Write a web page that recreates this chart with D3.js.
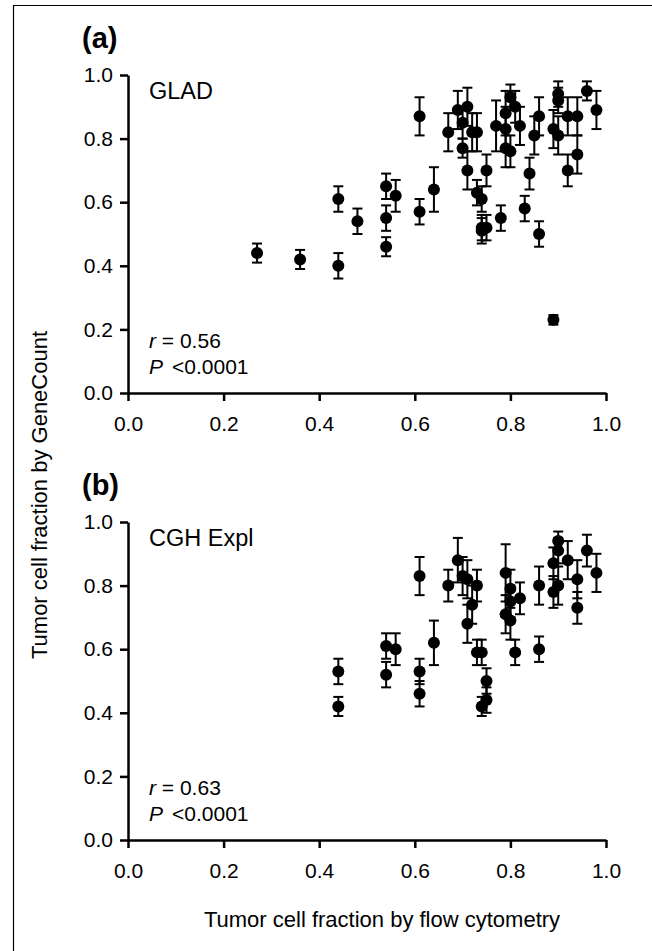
<!DOCTYPE html>
<html>
<head>
<meta charset="utf-8">
<script src="https://cdn.jsdelivr.net/npm/d3@7"></script>
<style>
  body { margin: 0; background: #fff; }
  svg { display: block; }
  text { font-family: "Liberation Sans", Arial, Helvetica, sans-serif; fill: #000; }
</style>
</head>
<body>
<div id="chart"></div>
<script>
// tick values shared by both axes
const tickValues = [0, 0.2, 0.4, 0.6, 0.8, 1.0];

// panel (a) GLAD
const gladX = [0.27, 0.36, 0.44, 0.44, 0.48, 0.54, 0.56, 0.54, 0.54, 0.61, 0.61, 0.64, 0.67, 0.69, 0.71, 0.70, 0.70, 0.72, 0.73, 0.71, 0.75, 0.73, 0.74, 0.74, 0.75, 0.74, 0.77, 0.78, 0.79, 0.79, 0.80, 0.81, 0.79, 0.80, 0.82, 0.83, 0.84, 0.85, 0.86, 0.86, 0.89, 0.90, 0.90, 0.90, 0.89, 0.92, 0.92, 0.94, 0.94, 0.96, 0.98];
const gladY = [0.44, 0.42, 0.40, 0.61, 0.54, 0.65, 0.62, 0.55, 0.46, 0.87, 0.57, 0.64, 0.82, 0.89, 0.90, 0.85, 0.77, 0.82, 0.82, 0.70, 0.70, 0.63, 0.61, 0.52, 0.52, 0.51, 0.84, 0.55, 0.88, 0.83, 0.93, 0.90, 0.77, 0.76, 0.84, 0.58, 0.69, 0.81, 0.87, 0.50, 0.83, 0.94, 0.92, 0.81, 0.23, 0.87, 0.70, 0.87, 0.75, 0.95, 0.89];
const gladErr = [0.03, 0.03, 0.04, 0.04, 0.04, 0.04, 0.05, 0.04, 0.03, 0.06, 0.04, 0.07, 0.06, 0.06, 0.06, 0.05, 0.03, 0.06, 0.06, 0.06, 0.05, 0.04, 0.04, 0.04, 0.04, 0.04, 0.08, 0.04, 0.07, 0.07, 0.04, 0.05, 0.06, 0.05, 0.06, 0.04, 0.05, 0.06, 0.06, 0.04, 0.06, 0.04, 0.04, 0.06, 0.015, 0.06, 0.05, 0.06, 0.06, 0.03, 0.06];

// panel (b) CGH Expl
const cghX = [0.44, 0.44, 0.54, 0.56, 0.54, 0.61, 0.61, 0.61, 0.64, 0.67, 0.69, 0.70, 0.71, 0.73, 0.72, 0.71, 0.73, 0.74, 0.75, 0.75, 0.74, 0.79, 0.80, 0.80, 0.79, 0.80, 0.81, 0.82, 0.86, 0.86, 0.89, 0.89, 0.90, 0.90, 0.90, 0.92, 0.94, 0.94, 0.96, 0.98];
const cghY = [0.53, 0.42, 0.61, 0.60, 0.52, 0.83, 0.53, 0.46, 0.62, 0.80, 0.88, 0.83, 0.82, 0.80, 0.74, 0.68, 0.59, 0.59, 0.50, 0.44, 0.42, 0.84, 0.79, 0.75, 0.71, 0.69, 0.59, 0.76, 0.80, 0.60, 0.87, 0.78, 0.94, 0.91, 0.80, 0.88, 0.82, 0.73, 0.91, 0.84];
const cghErr = [0.04, 0.03, 0.04, 0.05, 0.04, 0.06, 0.04, 0.04, 0.07, 0.05, 0.07, 0.06, 0.06, 0.05, 0.06, 0.06, 0.04, 0.04, 0.04, 0.04, 0.03, 0.09, 0.06, 0.05, 0.06, 0.06, 0.04, 0.05, 0.06, 0.04, 0.05, 0.05, 0.03, 0.04, 0.06, 0.06, 0.06, 0.05, 0.05, 0.06];

const W = 652, H = 951;

const svg = d3.select("#chart").append("svg")
  .attr("width", W)
  .attr("height", H);

svg.append("rect").attr("width", W).attr("height", H).attr("fill", "#fff");

// outer frame (only the left and top edges fall inside the picture)
svg.append("path")
  .attr("d", `M13.5,${H} V5.5 H${W}`)
  .attr("fill", "none")
  .attr("stroke", "#000")
  .attr("stroke-width", 1.2);

const x = d3.scaleLinear().domain([0, 1]).range([128, 606]);

function drawPanel(label, name, r, xs, ys, errs, top, bottom) {
  const y = d3.scaleLinear().domain([0, 1]).range([bottom, top]);
  const g = svg.append("g");

  // axes
  const yAxis = g.append("g")
    .attr("transform", `translate(${x(0)},0)`)
    .call(d3.axisLeft(y).tickValues(tickValues).tickFormat(d3.format(".1f"))
      .tickSize(8).tickSizeOuter(0).tickPadding(7));
  const xAxis = g.append("g")
    .attr("transform", `translate(0,${y(0)})`)
    .call(d3.axisBottom(x).tickValues(tickValues).tickFormat(d3.format(".1f"))
      .tickSize(8).tickSizeOuter(0).tickPadding(15));
  [yAxis, xAxis].forEach(a => {
    a.selectAll("path, line").attr("stroke", "#000").attr("stroke-width", 2.5);
    a.selectAll("text").attr("font-size", 21).attr("fill", "#000")
      .style("font-family", '"Liberation Sans", Arial, sans-serif');
  });

  // panel letter
  g.append("text")
    .attr("x", 82)
    .attr("y", top - 27)
    .attr("font-size", 29)
    .attr("font-weight", "bold")
    .text(label);

  // method name
  g.append("text")
    .attr("x", 149)
    .attr("y", top + 24)
    .attr("font-size", 23.5)
    .text(name);

  // statistics
  const st = g.append("text").attr("font-size", 21);
  st.append("tspan").attr("x", 149).attr("y", bottom - 45)
    .attr("font-style", "italic").text("r");
  st.append("tspan").text(" = " + r);
  const pt = g.append("text").attr("font-size", 21);
  pt.append("tspan").attr("x", 149).attr("y", bottom - 19)
    .attr("font-style", "italic").text("P");
  pt.append("tspan").attr("dx", 9).text("<0.0001");

  // points with error bars
  const data = xs.map((v, i) => ({ x: v, y: ys[i], e: errs[i] }));
  const pts = g.selectAll("g.pt").data(data).enter().append("g").attr("class", "pt");
  pts.append("line")
    .attr("x1", d => x(d.x)).attr("x2", d => x(d.x))
    .attr("y1", d => y(d.y - d.e)).attr("y2", d => y(d.y + d.e))
    .attr("stroke", "#000").attr("stroke-width", 2);
  [-1, 1].forEach(s => {
    pts.append("line")
      .attr("x1", d => x(d.x) - 5).attr("x2", d => x(d.x) + 5)
      .attr("y1", d => y(d.y + s * d.e)).attr("y2", d => y(d.y + s * d.e))
      .attr("stroke", "#000").attr("stroke-width", 2);
  });
  pts.append("circle")
    .attr("cx", d => x(d.x)).attr("cy", d => y(d.y))
    .attr("r", 6)
    .attr("fill", "#000");
}

drawPanel("(a)", "GLAD", "0.56", gladX, gladY, gladErr, 75, 393);
drawPanel("(b)", "CGH Expl", "0.63", cghX, cghY, cghErr, 522, 840);

// axis titles
svg.append("text")
  .attr("transform", "translate(47,495) rotate(-90)")
  .attr("text-anchor", "middle")
  .attr("font-size", 22)
  .text("Tumor cell fraction by GeneCount");

svg.append("text")
  .attr("x", 382)
  .attr("y", 927)
  .attr("text-anchor", "middle")
  .attr("font-size", 22)
  .text("Tumor cell fraction by flow cytometry");
</script>
</body>
</html>
